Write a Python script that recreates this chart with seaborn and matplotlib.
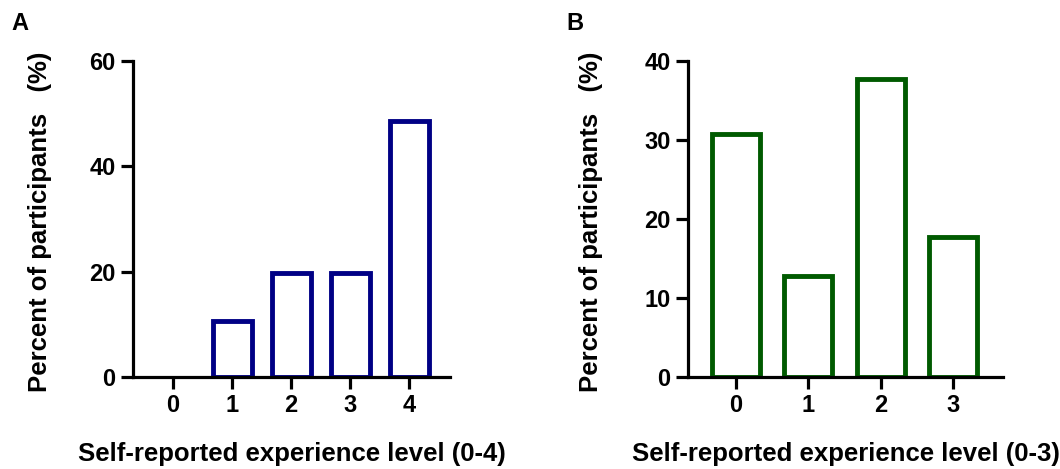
import matplotlib
matplotlib.use("Agg")
import matplotlib.pyplot as plt
import seaborn as sns

sns.set_style("ticks")
plt.rcParams['font.family'] = ['Liberation Sans', 'DejaVu Sans']
plt.rcParams['font.weight'] = 'bold'
plt.rcParams['text.color'] = 'black'
plt.rcParams['axes.labelcolor'] = 'black'
plt.rcParams['xtick.color'] = 'black'
plt.rcParams['ytick.color'] = 'black'
plt.rcParams['axes.edgecolor'] = 'black'

# panel A data
levels_a = ['0', '1', '2', '3', '4']
percent_a = [0, 10.6, 19.7, 19.7, 48.6]
# panel B data
levels_b = ['0', '1', '2', '3']
percent_b = [30.8, 12.8, 37.7, 17.7]

fig = plt.figure(figsize=(10.6, 4.69), dpi=100)
W, H = 1060, 469
ax_a = fig.add_axes([133 / W, 1 - 377 / H, (450 - 133) / W, (377 - 61) / H])
ax_b = fig.add_axes([688 / W, 1 - 377 / H, (1003 - 688) / W, (377 - 61) / H])


def draw_panel(ax, levels, values, color, ymax, ystep, xlim, xlabel, ylab_x):
    sns.barplot(x=levels, y=values, ax=ax, width=0.66, facecolor='white',
                edgecolor=color, linewidth=3.5, order=levels)
    for p in ax.patches:
        if p.get_height() == 0:
            p.set_visible(False)
    ax.set_xlim(*xlim)
    ax.set_ylim(0, ymax)
    ax.set_yticks(range(0, ymax + 1, ystep))
    sns.despine(ax=ax)
    for side in ['left', 'bottom']:
        ax.spines[side].set_linewidth(2.3)
    ax.tick_params(width=2.3, length=8.5, labelsize=17, pad=4)
    for lab in ax.get_xticklabels() + ax.get_yticklabels():
        lab.set_fontweight('bold')
    ax.set_xlabel(xlabel, fontsize=18.5, fontweight='bold', labelpad=18)
    ax.set_ylabel('Percent of participants   (%)', fontsize=18.5,
                  fontweight='bold')
    ax.yaxis.set_label_coords(ylab_x, 0.49)


draw_panel(ax_a, levels_a, percent_a, '#000085', 60, 20, (-0.68, 4.69),
           'Self-reported experience level (0-4)', -0.255)
draw_panel(ax_b, levels_b, percent_b, '#005a00', 40, 10, (-0.66, 3.69),
           'Self-reported experience level (0-3)', -0.27)

fig.text(11 / W, 1 - 24 / H, 'A', fontsize=17, fontweight='bold', va='center')
fig.text(566 / W, 1 - 24 / H, 'B', fontsize=17, fontweight='bold', va='center')

fig.savefig('out.png', dpi=100)
